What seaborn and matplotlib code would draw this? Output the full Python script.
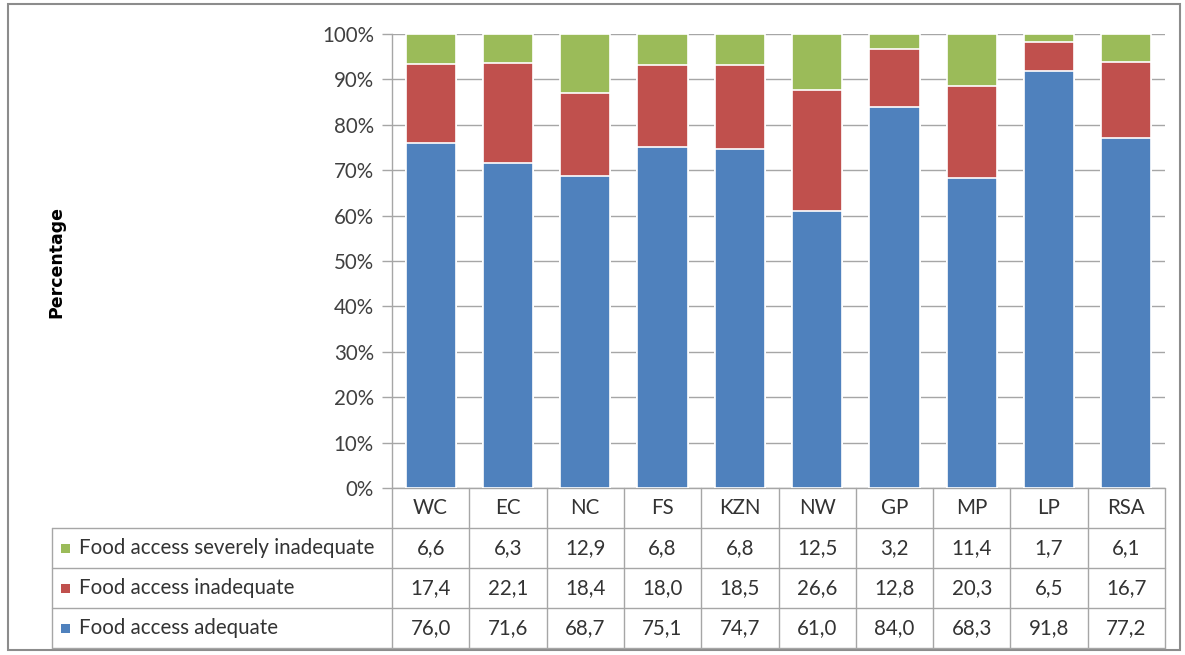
import matplotlib
matplotlib.use("Agg")
import matplotlib.pyplot as plt
import matplotlib.transforms as mtransforms
import seaborn as sns
import pandas as pd
import numpy as np

regions = ["WC", "EC", "NC", "FS", "KZN", "NW", "GP", "MP", "LP", "RSA"]
adequate = [76.0, 71.6, 68.7, 75.1, 74.7, 61.0, 84.0, 68.3, 91.8, 77.2]
inadequate = [17.4, 22.1, 18.4, 18.0, 18.5, 26.6, 12.8, 20.3, 6.5, 16.7]
severe = [6.6, 6.3, 12.9, 6.8, 6.8, 12.5, 3.2, 11.4, 1.7, 6.1]
colors = {"Food access adequate": "#4F81BD",
          "Food access inadequate": "#C0504D",
          "Food access severely inadequate": "#9BBB59"}

sns.set_theme(style="white")
plt.rcParams['font.family'] = ['Lato', 'DejaVu Sans']

df = pd.DataFrame({"region": regions, "adequate": adequate,
                   "inadequate": inadequate, "severe": severe})
df["lvl1"] = df["adequate"]
df["lvl2"] = df["adequate"] + df["inadequate"]
df["lvl3"] = df["adequate"] + df["inadequate"] + df["severe"]

W, H = 1185, 655
fig = plt.figure(figsize=(W / 100, H / 100), dpi=100)
fig.patch.set_facecolor("white")

ov = fig.add_axes([0, 0, 1, 1], zorder=0)
ov.set_xlim(0, W)
ov.set_ylim(H, 0)
ov.axis("off")

L, R, T, B = 392, 1165, 34, 488
ax = fig.add_axes([L / W, 1 - B / H, (R - L) / W, (B - T) / H], zorder=2)
ax.patch.set_alpha(0)

bw = 0.65
for col, name in [("lvl3", "Food access severely inadequate"),
                  ("lvl2", "Food access inadequate"),
                  ("lvl1", "Food access adequate")]:
    sns.barplot(data=df, x="region", y=col, color=colors[name], saturation=1,
                width=bw, edgecolor="white", linewidth=1.2, ax=ax, zorder=3)

FS = 14.8
TC = "#333333"
ax.set_xlim(-0.5, len(regions) - 0.5)
ax.set_ylim(0, 100)
ax.set_yticks(np.arange(0, 101, 10))
ax.set_yticklabels([f"{v}%" for v in range(0, 101, 10)], fontsize=FS, color="#404040")
ax.set_xticks([])
ax.set_xlabel("")
ax.set_ylabel("")
for s in ["top", "right", "bottom"]:
    ax.spines[s].set_visible(False)
ax.spines["left"].set_color("#a6a6a6")
ax.spines["left"].set_linewidth(1)
ax.tick_params(axis="y", length=7, width=1, color="#a6a6a6", pad=6, left=True)
ax.yaxis.grid(True, color="#a6a6a6", linewidth=1, zorder=0)
ax.set_axisbelow(True)

ov.text(56, 262, "Percentage", rotation=90, ha="center", va="center",
        fontsize=12.5, fontweight="bold", color="black", family="DejaVu Sans")

ov.add_patch(plt.Rectangle((8, 4), 1172, 646, fill=False, edgecolor="#8c8c8c", linewidth=1.5))

tr = mtransforms.blended_transform_factory(ax.transData, ov.transData)
rows_y = [488, 528, 568, 608, 648]
TL = 52
lc = "#a6a6a6"
ov.plot([L, R], [488, 488], color=lc, lw=1)
for y in rows_y[1:]:
    ov.plot([TL, R], [y, y], color=lc, lw=1)
ov.plot([TL, TL], [528, 648], color=lc, lw=1)
for i in range(len(regions) + 1):
    ax.plot([i - 0.5, i - 0.5], [488, 648], color=lc, lw=1, transform=tr, clip_on=False)

for i, reg in enumerate(regions):
    ax.text(i, 508, reg, transform=tr, ha="center", va="center", fontsize=FS, color=TC)

table_rows = [("Food access severely inadequate", severe),
              ("Food access inadequate", inadequate),
              ("Food access adequate", adequate)]
for r, (name, vals) in enumerate(table_rows):
    yc = (rows_y[r + 1] + rows_y[r + 2]) / 2
    ov.add_patch(plt.Rectangle((61, yc - 4.5), 9, 9, color=colors[name], lw=0))
    ov.text(79, yc, name, ha="left", va="center", fontsize=FS, color=TC)
    for i, v in enumerate(vals):
        ax.text(i, yc, f"{v:.1f}".replace(".", ","), transform=tr, ha="center",
                va="center", fontsize=FS, color=TC)

fig.savefig("out.png", dpi=100, facecolor="white")
